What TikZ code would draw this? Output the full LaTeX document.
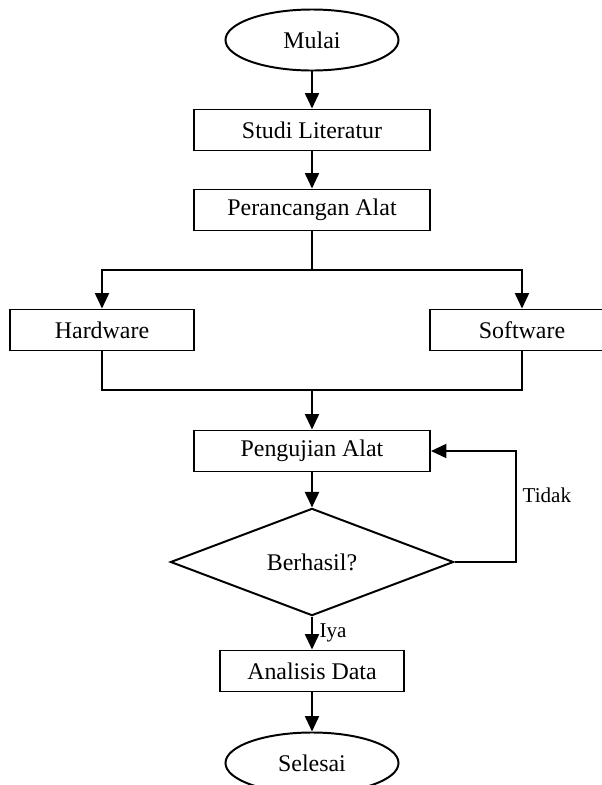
\documentclass[tikz,border=0pt]{standalone}
\usepackage{fontspec}
\setmainfont{Liberation Serif}
\usetikzlibrary{shapes.geometric,arrows.meta}

\begin{document}
\begin{tikzpicture}[x=0.025cm, y=-0.025cm, line width=1.4pt,
    >={Triangle[width=10pt,length=11pt]},
    proses/.style={draw, rectangle, minimum height=1.025cm, inner sep=2pt,
      font=\fontsize{17}{20}\selectfont},
    terminal/.style={draw, ellipse, minimum width=4.325cm, minimum height=1.525cm,
      font=\fontsize{17}{20}\selectfont},
    keputusan/.style={draw, diamond, minimum width=7.075cm, minimum height=2.5cm,
      inner sep=0pt, font=\fontsize{17}{20}\selectfont},
    ket/.style={font=\fontsize{15}{18}\selectfont}]
    \useasboundingbox (0,0) rectangle (602,785);

    % Knoten
    \node[terminal] (mulai) at (312,40) {Mulai};
    \node[proses, minimum width=5.9cm] (studi) at (312,130) {Studi Literatur};
    \node[proses, minimum width=5.9cm] (rancang) at (312,210) {Perancangan Alat};
    \node[proses, minimum width=4.6cm] (hardware) at (102,330) {Hardware};
    \node[proses, minimum width=4.6cm] (software) at (522,330) {Software};
    \node[proses, minimum width=5.9cm] (uji) at (312,451) {Pengujian Alat};
    \node[keputusan] (cek) at (312,562) {Berhasil?};
    \node[proses, minimum width=4.575cm] (analisis) at (312,671) {Analisis Data};
    \node[terminal] (selesai) at (312,763) {Selesai};

    % Hilfspunkte
    \coordinate (cabang) at (312,270);
    \coordinate (gabung) at (312,390);
    \coordinate (balik) at (516,562);

    % Pfeile
    \draw[->] (mulai) -- (studi);
    \draw[->] (studi) -- (rancang);
    \draw (rancang) -- (cabang);
    \draw[->] (cabang) -| (hardware);
    \draw[->] (cabang) -| (software);
    \draw (hardware) |- (gabung) -| (software);
    \draw[->] (gabung) -- (uji);
    \draw[->] (uji) -- (cek);
    \draw[->] (cek.east) -- (balik) |- (uji.east);
    \draw[->] (cek.south) -- (analisis);
    \draw[->] (analisis) -- (selesai);

    % Beschriftungen
    \node[ket, right] (tidak) at (517,495) {Tidak};
    \node[ket, right] (iya) at (314,633) {Iya};
  \end{tikzpicture}
\end{document}
